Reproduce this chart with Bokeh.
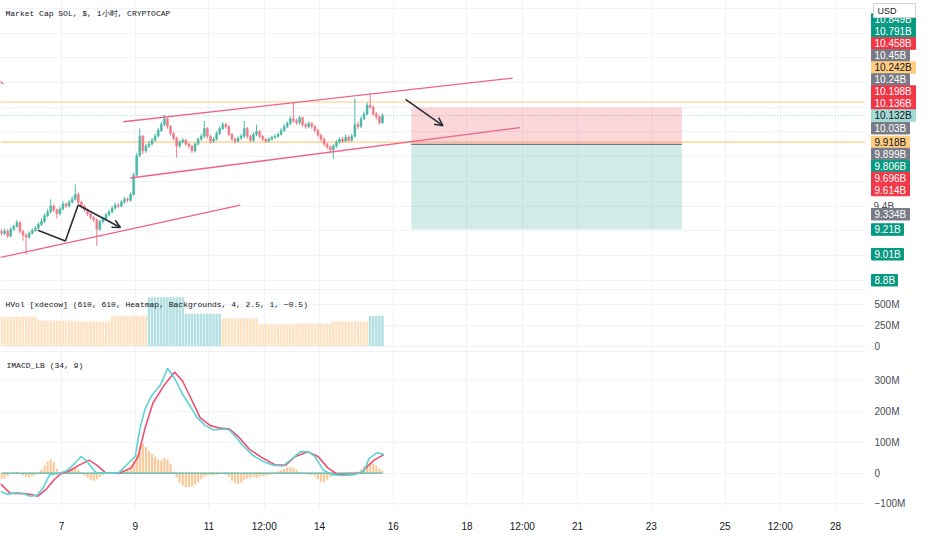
import numpy as np
from bokeh.plotting import figure
from bokeh.layouts import column, row
from bokeh.models import Range1d, FixedTicker, Span, Arrow, OpenHead, ColumnDataSource, Grid
from bokeh.core.properties import value
from bokeh.embed import file_html
from bokeh.resources import INLINE

# ---------------- data ----------------
title_main = "Market Cap SOL, $, 1小时, CRYPTOCAP"
title_hvol = "HVol [xdecow] (610, 610, Heatmap, Backgrounds, 4, 2.5, 1, −0.5)"
title_macd = "IMACD_LB (34, 9)"

# 2-hour candles, time axis in day-of-month (first candle: day 5, 09:00)
candle_start = 5.375
candle_step = 1 / 12
first_open = 9.196
closes = [
    9.180, 9.196, 9.157, 9.212, 9.235, 9.267, 9.196, 9.165, 9.149, 9.180,
    9.204, 9.220, 9.251, 9.275, 9.322, 9.353, 9.400, 9.369, 9.337, 9.376,
    9.416, 9.400, 9.431, 9.455, 9.494, 9.431, 9.400, 9.369, 9.337, 9.306,
    9.290, 9.212, 9.275, 9.298, 9.329, 9.353, 9.384, 9.408, 9.400, 9.431,
    9.455, 9.447, 9.494, 9.651, 9.808, 9.965, 9.847, 9.886, 9.902, 9.933,
    9.965, 10.012, 10.059, 10.106, 10.043, 9.988, 9.949, 9.886, 9.918, 9.933,
    9.902, 9.886, 9.847, 9.902, 9.941, 9.965, 10.027, 9.965, 9.925, 9.941,
    9.988, 10.027, 10.059, 10.043, 9.980, 9.941, 9.925, 9.949, 9.965, 10.027,
    9.965, 9.933, 9.980, 10.004, 9.965, 9.941, 9.925, 9.941, 9.957, 9.965,
    9.980, 10.012, 10.043, 10.067, 10.106, 10.090, 10.075, 10.114, 10.059, 10.043,
    10.067, 10.043, 10.012, 9.973, 9.941, 9.902, 9.878, 9.855, 9.886, 9.918,
    9.941, 9.925, 9.957, 9.933, 9.965, 10.059, 10.043, 10.106, 10.145, 10.216,
    10.200, 10.145, 10.122, 10.075, 10.132]
highs = [
    9.215, 9.220, 9.215, 9.230, 9.250, 9.290, 9.275, 9.205, 9.180, 9.195,
    9.220, 9.240, 9.270, 9.300, 9.340, 9.375, 9.455, 9.415, 9.380, 9.395,
    9.440, 9.430, 9.450, 9.480, 9.575, 9.510, 9.445, 9.410, 9.380, 9.350,
    9.320, 9.300, 9.290, 9.315, 9.345, 9.370, 9.400, 9.430, 9.425, 9.450,
    9.475, 9.470, 9.510, 9.670, 9.830, 10.027, 9.975, 9.905, 9.925, 9.950,
    9.985, 10.030, 10.080, 10.137, 10.115, 10.055, 10.000, 9.960, 9.935, 9.950,
    9.945, 9.915, 9.895, 9.915, 9.955, 9.985, 10.090, 10.040, 9.975, 9.960,
    10.005, 10.045, 10.080, 10.075, 10.055, 9.990, 9.955, 9.965, 9.985, 10.090,
    10.040, 9.975, 9.995, 10.059, 10.015, 9.975, 9.950, 9.955, 9.970, 9.980,
    9.995, 10.030, 10.060, 10.085, 10.125, 10.239, 10.110, 10.130, 10.125, 10.075,
    10.085, 10.080, 10.055, 10.025, 9.985, 9.955, 9.915, 9.890, 9.900, 9.935,
    9.955, 9.960, 9.975, 9.970, 9.985, 10.271, 10.080, 10.125, 10.165, 10.240,
    10.310, 10.215, 10.160, 10.135, 10.150]
lows = [
    9.160, 9.165, 9.140, 9.150, 9.200, 9.225, 9.180, 9.120, 9.008, 9.135,
    9.170, 9.190, 9.210, 9.240, 9.265, 9.310, 9.340, 9.350, 9.300, 9.325,
    9.365, 9.385, 9.390, 9.420, 9.445, 9.415, 9.380, 9.350, 9.320, 9.290,
    9.270, 9.078, 9.200, 9.260, 9.285, 9.315, 9.340, 9.370, 9.385, 9.390,
    9.420, 9.430, 9.435, 9.485, 9.640, 9.795, 9.820, 9.830, 9.870, 9.890,
    9.920, 9.955, 10.000, 10.045, 10.025, 9.970, 9.930, 9.792, 9.870, 9.905,
    9.885, 9.865, 9.830, 9.835, 9.890, 9.930, 9.950, 9.945, 9.905, 9.910,
    9.930, 9.975, 10.015, 10.025, 9.965, 9.925, 9.905, 9.910, 9.935, 9.950,
    9.945, 9.915, 9.920, 9.965, 9.950, 9.925, 9.910, 9.910, 9.930, 9.945,
    9.950, 9.970, 10.000, 10.030, 10.055, 10.075, 10.055, 10.060, 10.040, 10.025,
    10.030, 10.025, 9.995, 9.955, 9.920, 9.880, 9.860, 9.835, 9.784, 9.870,
    9.905, 9.910, 9.915, 9.915, 9.920, 9.955, 10.020, 10.030, 10.095, 10.135,
    10.185, 10.130, 10.100, 10.060, 10.065]

# HVol: one value per daily session (M), session start days, heat state
hvol_day_start = [5.333, 6.333, 7.333, 8.333, 9.333, 10.333, 11.333, 12.333, 13.333, 14.333, 15.333]
hvol_vals = [351, 305, 294, 363, 580, 385, 332, 260, 271, 294, 363]
hvol_hot = [0, 0, 0, 0, 1, 1, 0, 0, 0, 0, 1]

# IMACD histogram per candle (M)
hist_vals = [
    -20, -18, -10, -3, 3, 4, -3, -8, -12, -14,
    -10, -6, 2, 12, 25, 38, 45, 35, 15, 3,
    2, 8, 12, 16, 18, 10, 2, -8, -15, -22,
    -25, -20, -12, -5, -2, 0, 1, 1, 2, 4,
    8, 15, 25, 40, 60, 90, 95, 85, 72, 62,
    52, 45, 42, 48, 45, 30, 5, -15, -32, -40,
    -45, -45, -42, -38, -30, -20, -12, -8, -6, -8,
    -5, -3, -2, -5, -12, -25, -32, -35, -30, -22,
    -18, -15, -12, -16, -12, -10, -8, -6, -4, 2,
    6, 10, 14, 18, 20, 17, 10, 4, 0, -3,
    -5, -5, -10, -20, -28, -30, -22, -12, -8, -5,
    -3, 0, 2, 3, 2, 4, 5, 12, 22, 32,
    35, 30, 25, 15, 8]
macd_t = [5.347, 5.533, 5.8, 5.96, 6.147, 6.333, 6.493, 6.68, 6.893, 7.133, 7.293, 7.533,
          7.693, 7.933, 8.2, 8.547, 8.813, 9.0, 9.133, 9.267, 9.427, 9.693, 9.88, 10.067,
          10.28, 10.493, 10.68, 10.893, 11.133, 11.4, 11.56, 11.747, 11.933, 12.2, 12.467,
          12.733, 13.0, 13.267, 13.48, 13.693, 13.88, 14.093, 14.333, 14.627, 14.947,
          15.213, 15.347, 15.56, 15.747]
macd_v = [-60, -69, -63, -66, -75, -72, -51, -5, -2, 7, 23, 54, 38, 2, 0, 0, 32, 54, 146,
          208, 248, 288, 340, 309, 257, 217, 180, 155, 140, 143, 140, 115, 88, 57, 38, 26,
          23, 48, 69, 69, 54, 11, -5, -8, -5, 8, 48, 66, 60]
signal_t = [5.347, 5.613, 5.88, 6.147, 6.36, 6.6, 6.813, 7.0, 7.213, 7.48, 7.747, 7.96,
            8.2, 8.547, 8.893, 9.08, 9.267, 9.48, 9.8, 10.067, 10.28, 10.493, 10.76, 11.027,
            11.293, 11.56, 11.827, 12.093, 12.467, 12.813, 13.08, 13.347, 13.693, 13.96,
            14.227, 14.493, 14.867, 15.133, 15.48, 15.747]
signal_v = [-35, -66, -66, -69, -75, -51, -20, -1, 7, 26, 42, 26, 1, -1, 17, 54, 146, 227,
            288, 328, 300, 248, 180, 155, 146, 143, 115, 78, 48, 26, 26, 54, 69, 54, 17, -5,
            -5, 2, 42, 60]

# drawings (time in days, price in B)
trend_t0 = [8.68, 8.867, 5.347, 5.15]
trend_p0 = [10.082, 9.627, 8.984, 10.45]
trend_t1 = [19.24, 19.43, 11.853, 5.427]
trend_p1 = [10.435, 10.035, 9.408, 10.388]
zig_t = [6.36, 7.107, 7.453, 8.6]
zig_p = [9.204, 9.118, 9.408, 9.227]
arrow_t = [16.333, 17.347]
arrow_p = [10.263, 10.051]
hline_p = [10.242, 9.918]
last_price = 10.132
pos_t = [16.49, 23.83]
pos_entry, pos_stop, pos_target = 9.899, 10.198, 9.21

# price-scale labels
plabel_text = ["10.849B", "10.791B", "10.458B", "10.45B", "10.242B", "10.24B", "10.198B",
               "10.136B", "10.132B", "10.03B", "9.918B", "9.899B", "9.806B", "9.696B",
               "9.614B", "9.334B", "9.21B", "9.01B", "8.8B"]
plabel_val = [10.849, 10.791, 10.458, 10.45, 10.242, 10.24, 10.198, 10.136, 10.132, 10.03,
              9.918, 9.899, 9.806, 9.696, 9.614, 9.334, 9.21, 9.01, 8.8]
plabel_kind = ["green", "green", "red", "gray", "orange", "gray", "red", "red", "last", "gray",
               "orange", "gray", "green", "red", "red", "gray", "green", "green", "green"]
price_tick_vals = [9.4]
price_tick_text = ["9.4B"]
price_grid = [8.8, 9.0, 9.2, 9.4, 9.6, 9.8, 10.0, 10.2, 10.4, 10.6, 10.8, 11.0]

date_ticks = [7, 9, 11, 12.5, 14, 16, 18, 19.5, 21, 23, 25, 26.5, 28]
date_labels = ["7", "9", "11", "12:00", "14", "16", "18", "12:00", "21", "23", "25", "12:00", "28"]
hv_ticks = [0, 250, 500]
hv_tick_labels = ["0", "250M", "500M"]
mc_ticks = [-100, 0, 100, 200, 300]
mc_tick_labels = ["−100M", "0", "100M", "200M", "300M"]

# ---------------- layout & style ----------------
FW, AW = 865, 51
MAIN_H, HV_H, MC_H, AX_H = 289, 62, 161, 22
X0, X1 = 5.347, 28.81
PY0, PY1 = 8.725, 11.063
HV0, HV1 = -61, 672
MC0, MC1 = -115, 395

GRID = "#f0f3fa"
SEP = "#e0e3eb"
TXT = "#131722"
AXT = "#4a4d57"
UP, DN = "#4cb8a6", "#f07c87"
PINK = "#f0628a"
ORANGE_LINE = "#ffcc80"
DARK = "#2a2e39"
MONO = value("Liberation Mono")
SANS = value("Liberation Sans")
KIND_BG = {"green": "#089981", "red": "#f23645", "gray": "#787b86", "orange": "#ffcc80", "last": "#a3d9d5"}
KIND_FG = {"green": "white", "red": "white", "gray": "white", "orange": TXT, "last": TXT}

xr = Range1d(X0, X1)
dx = (X1 - X0) / FW


def base_fig(w, h, yr, xrange=xr, **kw):
    p = figure(width=w, height=h, x_range=xrange, y_range=yr, toolbar_location=None,
               output_backend="svg", min_border=0, **kw)
    p.outline_line_color = None
    p.background_fill_color = "white"
    p.border_fill_color = "white"
    p.xgrid.visible = False
    p.ygrid.visible = False
    return p


def add_grids(p, xt, yt):
    p.add_layout(Grid(dimension=0, ticker=FixedTicker(ticks=xt), grid_line_color=GRID))
    p.add_layout(Grid(dimension=1, ticker=FixedTicker(ticks=yt), grid_line_color=GRID))


def style_axis(ax, ticks, labels):
    ax.ticker = FixedTicker(ticks=ticks)
    ax.major_label_overrides = {t: s for t, s in zip(ticks, labels)}
    ax.axis_line_color = None
    ax.major_tick_line_color = None
    ax.minor_tick_line_color = None
    ax.major_label_text_font = "Liberation Sans"
    ax.major_label_text_font_size = "10px"
    ax.major_label_text_color = AXT


# ---------------- main price panel ----------------
yr_main = Range1d(PY0, PY1)
ppm = (PY1 - PY0) / MAIN_H
pm = base_fig(FW, MAIN_H, yr_main, x_axis_location=None, y_axis_location=None)
add_grids(pm, date_ticks, price_grid)

for lvl in hline_p:
    pm.add_layout(Span(location=lvl, dimension="width", line_color=ORANGE_LINE, line_width=1.2, level="underlay"))
pm.add_layout(Span(location=last_price, dimension="width", line_color="#8fd3ce", line_width=1,
                   line_dash="1 2", level="underlay"))

# position tool
pm.quad(left=[pos_t[0]], right=[pos_t[1]], bottom=[pos_entry], top=[pos_stop],
        fill_color="#f23645", fill_alpha=0.2, line_color=None)
pm.quad(left=[pos_t[0]], right=[pos_t[1]], bottom=[pos_target], top=[pos_entry],
        fill_color="#089981", fill_alpha=0.19, line_color=None)
pm.segment(x0=[pos_t[0]], y0=[pos_entry], x1=[pos_t[1]], y1=[pos_entry], line_color="#787b86", line_width=1.2)

# candles
n = len(closes)
t = candle_start + np.arange(n) * candle_step
o = np.array([first_open] + closes[:-1])
c = np.array(closes)
cols = np.where(c >= o, UP, DN)
csrc = ColumnDataSource(dict(t=t, h=highs, l=lows, top=np.maximum(o, c), bot=np.minimum(o, c), col=cols))
pm.segment(x0="t", y0="l", x1="t", y1="h", source=csrc, line_color="col", line_width=1)
pm.vbar(x="t", width=0.6 * candle_step, top="top", bottom="bot", source=csrc,
        fill_color="col", line_color="col", line_width=0.6)

# trend lines & arrows
pm.segment(x0=trend_t0, y0=trend_p0, x1=trend_t1, y1=trend_p1, line_color=PINK, line_width=1.3)
pm.line(zig_t[:-1], zig_p[:-1], line_color=DARK, line_width=1.6)
pm.add_layout(Arrow(end=OpenHead(size=8, line_color=DARK, line_width=1.6),
                    x_start=zig_t[-2], y_start=zig_p[-2], x_end=zig_t[-1], y_end=zig_p[-1],
                    line_color=DARK, line_width=1.6))
pm.add_layout(Arrow(end=OpenHead(size=8, line_color=DARK, line_width=1.6),
                    x_start=arrow_t[0], y_start=arrow_p[0], x_end=arrow_t[1], y_end=arrow_p[1],
                    line_color=DARK, line_width=1.6))

pm.text(x=[X0 + 5 * dx], y=[PY1 - 13 * ppm], text=[title_main], text_baseline="middle",
        text_align="left", text_font=MONO, text_font_size=value("8px"), text_color=TXT)

# ---------------- price scale column ----------------
pr = base_fig(AW, MAIN_H, yr_main, xrange=Range1d(0, AW), x_axis_location=None, y_axis_location=None)
h = 12 * ppm
vals = np.array(plabel_val)
anchor = plabel_kind.index("last")
pos = {anchor: vals[anchor]}
prev = vals[anchor]
for i in sorted([i for i in range(len(vals)) if i != anchor and vals[i] >= vals[anchor]], key=lambda i: vals[i]):
    prev = max(vals[i], prev + h)
    pos[i] = prev
prev = vals[anchor]
for i in sorted([i for i in range(len(vals)) if vals[i] < vals[anchor]], key=lambda i: -vals[i]):
    prev = min(vals[i], prev - h)
    pos[i] = prev
ys = [pos[i] for i in range(len(vals))]
widths = [6.0 * len(s) + 2 for s in plabel_text]
lsrc = ColumnDataSource(dict(
    x=[6 + w / 2 for w in widths], y=ys, w=widths, text=plabel_text,
    bg=[KIND_BG[k] for k in plabel_kind], fg=[KIND_FG[k] for k in plabel_kind]))
pr.text(x=[8] * len(price_tick_vals), y=price_tick_vals, text=price_tick_text, text_baseline="middle",
        text_font=SANS, text_font_size=value("10px"), text_color=AXT)
pr.rect(x="x", y="y", width="w", height=11.5, height_units="screen", source=lsrc,
        fill_color="bg", line_color="bg")
pr.text(x=9, y="y", text="text", source=lsrc, text_baseline="middle", text_align="left",
        text_font=SANS, text_font_size=value("10px"), text_color="fg")
pr.rect(x=[29], y=[PY1 - 10 * ppm], width=[42], height=14, height_units="screen",
        fill_color="white", line_color="#d1d4dc")
pr.text(x=[12], y=[PY1 - 10 * ppm], text=["USD"], text_baseline="middle",
        text_font=SANS, text_font_size=value("9px"), text_color=TXT)

# ---------------- HVol panel ----------------
phv = base_fig(FW + AW, HV_H, Range1d(HV0, HV1), x_axis_location=None, y_axis_location="right",
               min_border_right=AW)
add_grids(phv, date_ticks, hv_ticks)
style_axis(phv.yaxis[0], hv_ticks, hv_tick_labels)
phv.yaxis[0].major_label_standoff = 3
seg = np.searchsorted(np.array(hvol_day_start), t, side="right") - 1
seg = np.clip(seg, 0, len(hvol_vals) - 1)
hv_top = [hvol_vals[s] for s in seg]
hv_col = ["#b3e0e2" if hvol_hot[s] else "#fde3c3" for s in seg]
phv.vbar(x=t, width=0.8 * candle_step, top=hv_top, bottom=0, fill_color=hv_col, line_color=None)
phv.add_layout(Span(location=HV1, dimension="width", line_color=SEP, line_width=1))
ppv = (HV1 - HV0) / HV_H
phv.text(x=[X0 + 5 * dx], y=[HV1 - 15 * ppv], text=[title_hvol], text_baseline="middle",
         text_font=MONO, text_font_size=value("8px"), text_color=TXT)

# ---------------- IMACD panel ----------------
pmc = base_fig(FW + AW, MC_H + AX_H, Range1d(MC0, MC1), x_axis_location="below",
               y_axis_location="right", min_border_right=AW, min_border_bottom=AX_H)
add_grids(pmc, date_ticks, mc_ticks)
style_axis(pmc.yaxis[0], mc_ticks, mc_tick_labels)
pmc.yaxis[0].major_label_standoff = 3
style_axis(pmc.xaxis[0], date_ticks, date_labels)
pmc.xaxis[0].major_label_text_color = TXT
pmc.xaxis[0].major_label_standoff = 6
pmc.vbar(x=t, width=0.7 * candle_step, top=hist_vals, bottom=0, fill_color="#fbc89a", line_color=None)
pmc.line(t, np.zeros(n), line_color="#4fb3a4", line_width=1.2)
pmc.line(signal_t, signal_v, line_color="#ef4f6f", line_width=1.6)
pmc.line(macd_t, macd_v, line_color="#5dd3d6", line_width=1.6)
pmc.add_layout(Span(location=MC1, dimension="width", line_color=SEP, line_width=1))
ppc = (MC1 - MC0) / MC_H
pmc.text(x=[X0 + 6 * dx], y=[MC1 - 14 * ppc], text=[title_macd], text_baseline="middle",
         text_font=MONO, text_font_size=value("8px"), text_color=TXT)

layout = column(row(pm, pr), phv, pmc)
open("out.html", "w").write(file_html(layout, INLINE))
